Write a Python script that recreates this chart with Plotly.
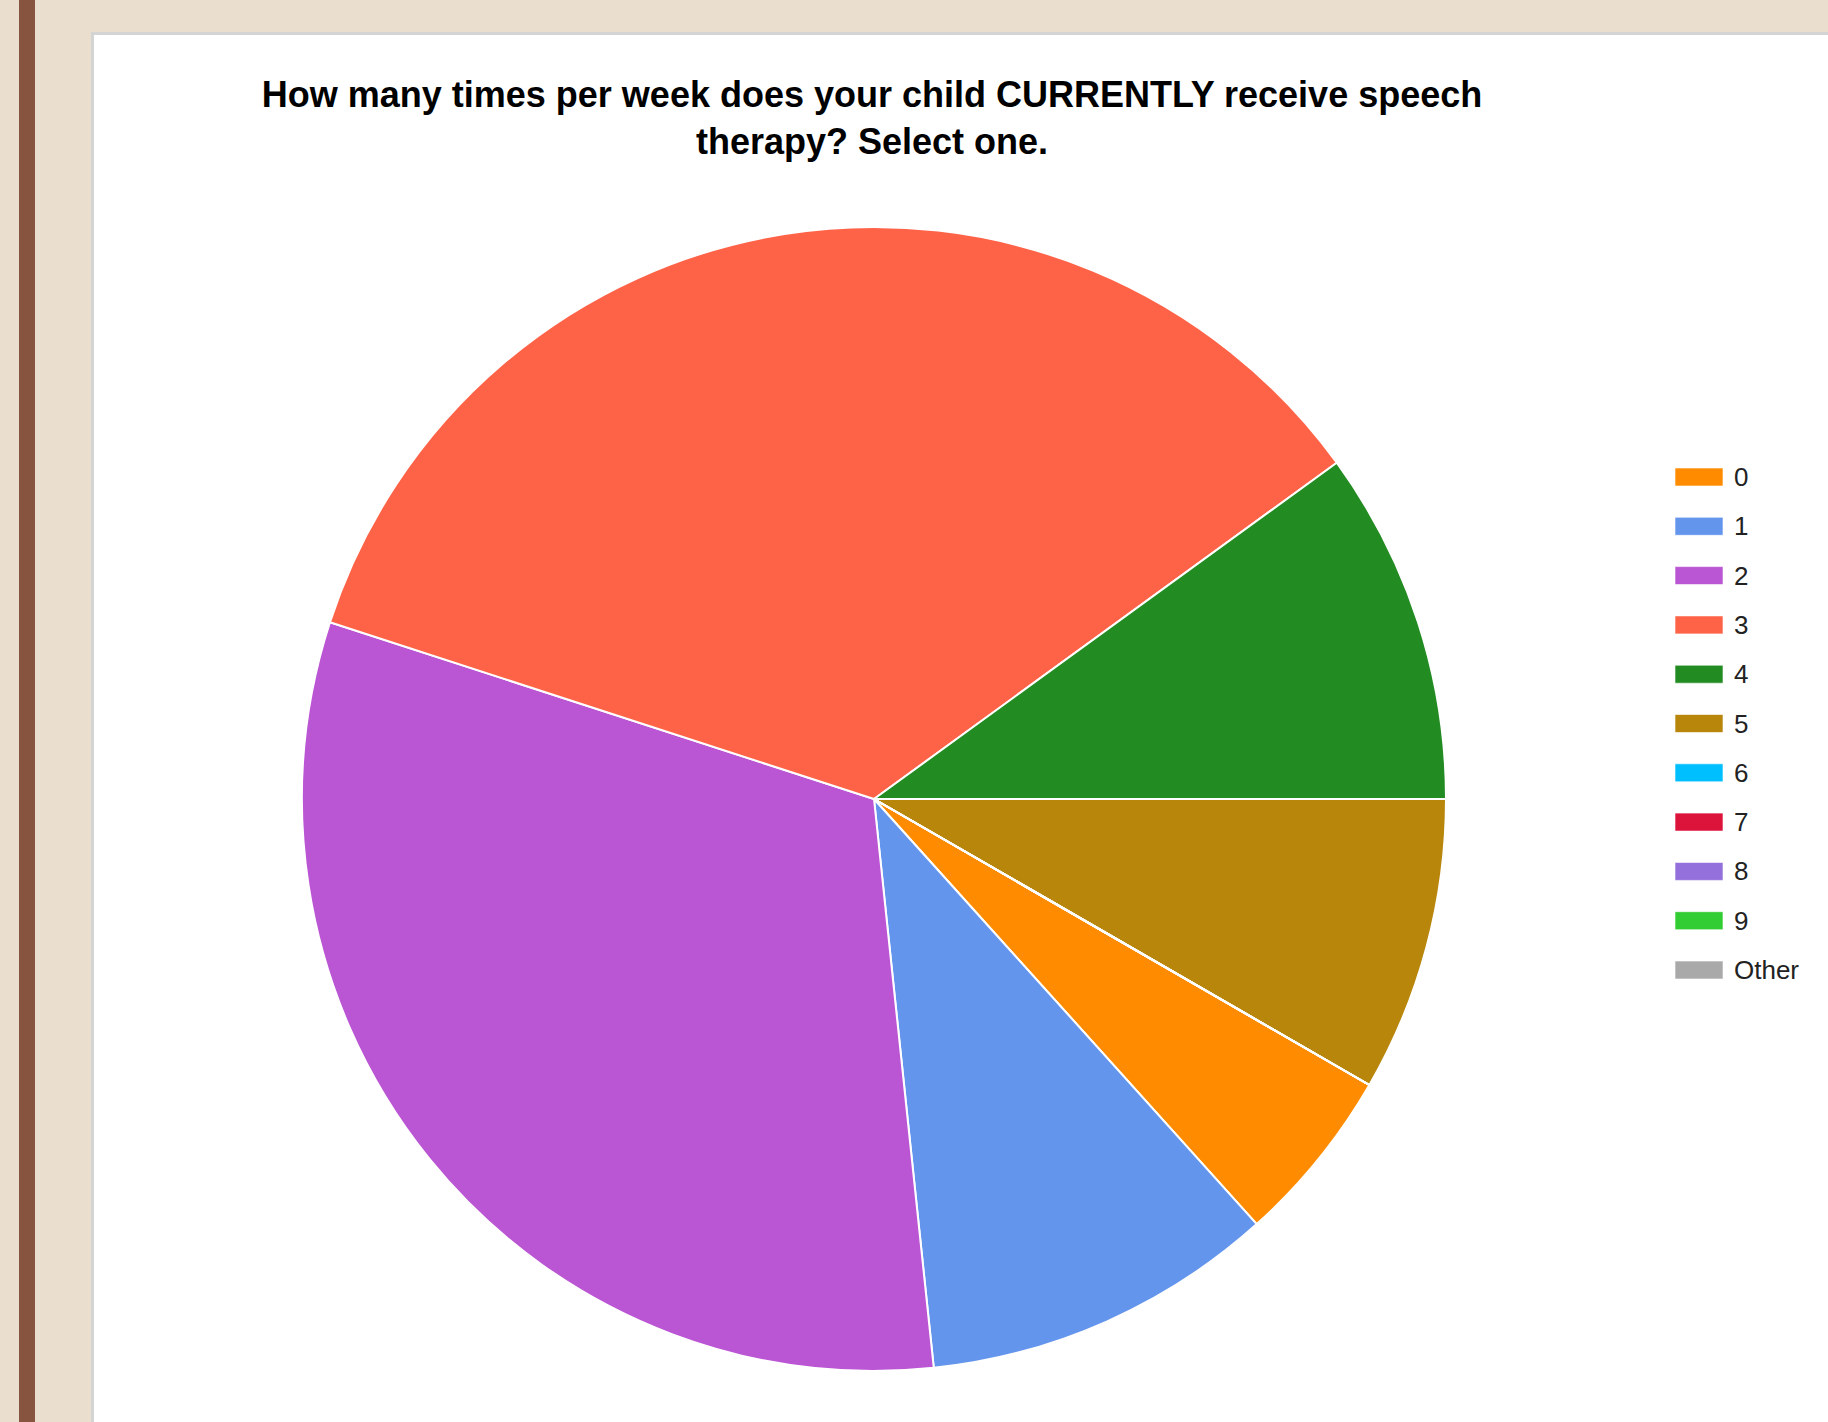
import plotly.graph_objects as go

W, H = 1828, 1422

title_text = "How many times per week does your child CURRENTLY receive speech<br>therapy? Select one."
categories = ["0", "1", "2", "3", "4", "5", "6", "7", "8", "9", "Other"]
counts = [3, 6, 19, 21, 6, 5, 0, 0, 0, 0, 0]
colors = ["#FF8C00", "#6495ED", "#BA55D3", "#FF6347", "#228B22", "#B8860B",
          "#00BFFF", "#DC143C", "#9370DB", "#32CD32", "#A9A9A9"]

# layout constants (pixels)
cx, cy, R = 874, 799, 572
panel_x, panel_y = 91, 32

def px(x):
    return x / W

def py(y):
    return 1 - y / H

fig = go.Figure()
fig.add_trace(go.Pie(
    labels=categories,
    values=counts,
    marker=dict(colors=colors, line=dict(color="white", width=2)),
    sort=False,
    direction="clockwise",
    rotation=120,
    textinfo="none",
    showlegend=False,
    domain=dict(x=[px(cx - R), px(cx + R)], y=[py(cy + R), py(cy - R)]),
))

shapes = [
    # brown vertical stripe
    dict(type="rect", xref="paper", yref="paper", x0=px(19), x1=px(35), y0=0, y1=1,
         fillcolor="#87553F", line=dict(width=0), layer="below"),
    # gray border of white panel
    dict(type="rect", xref="paper", yref="paper", x0=px(panel_x), x1=1.01, y0=-0.01, y1=py(panel_y),
         fillcolor="#D4D4D4", line=dict(width=0), layer="below"),
    dict(type="rect", xref="paper", yref="paper", x0=px(panel_x + 3), x1=1.01, y0=-0.01, y1=py(panel_y + 3),
         fillcolor="white", line=dict(width=0), layer="below"),
]

annotations = []
leg_x0, leg_x1, leg_tx = 1675, 1723, 1732
leg_y0, leg_step, sw_h = 477, 49.3, 18
for i, (cat, col) in enumerate(zip(categories, colors)):
    yc = leg_y0 + i * leg_step
    shapes.append(dict(type="rect", xref="paper", yref="paper",
                       x0=px(leg_x0), x1=px(leg_x1), y0=py(yc + sw_h / 2), y1=py(yc - sw_h / 2),
                       fillcolor=col, line=dict(width=1, color="rgba(255,255,255,0.6)")))
    annotations.append(dict(xref="paper", yref="paper", x=px(leg_tx), y=py(yc),
                            xanchor="left", yanchor="middle", showarrow=False, text=cat,
                            font=dict(family="Liberation Sans, Arial", size=26, color="#222222")))

fig.update_layout(
    width=W, height=H,
    margin=dict(l=0, r=0, t=0, b=0),
    paper_bgcolor="#EADFCE",
    plot_bgcolor="white",
    title=dict(text="<b>" + title_text + "</b>", x=px(872), xanchor="center",
               y=py(107), yanchor="top",
               font=dict(family="Liberation Sans, Arial", size=36, color="#000000")),
    shapes=shapes,
    annotations=annotations,
)

fig.write_html("out.html")
